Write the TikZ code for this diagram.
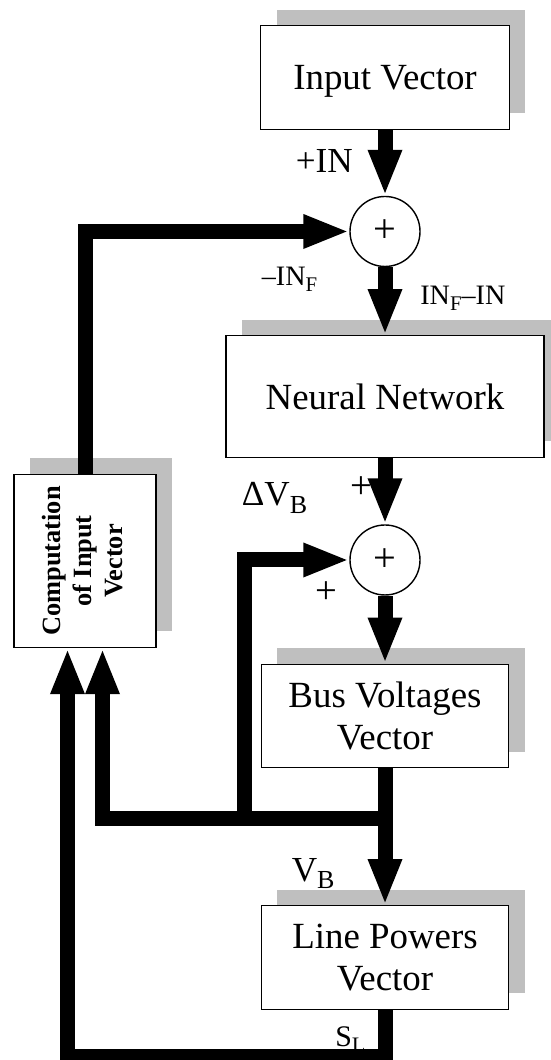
\documentclass[tikz,border=0pt]{standalone}
\usepackage{fontspec}
\setmainfont{Liberation Serif}
\usetikzlibrary{arrows.meta,shadows}

\newcommand{\lowsub}[1]{\raisebox{-0.2em}{\scalebox{0.74}{#1}}}

\begin{document}
\begin{tikzpicture}[
    every node/.style={font=\fontsize{20}{24}\selectfont},
    block/.style={draw, line width=0.8pt, fill=white, align=center, inner sep=0pt,
        font=\fontsize{21}{24.3}\selectfont,
        general shadow={fill=gray!50, draw=none, shadow xshift=0.32cm, shadow yshift=0.32cm}},
    adder/.style={draw, circle, line width=0.8pt, fill=white, minimum size=1.4cm, inner sep=0pt,
        font=\fontsize{23}{26}\selectfont},
    sigLabel/.style={anchor=base west, inner sep=0pt},
    smallLabel/.style={anchor=base west, inner sep=0pt, font=\fontsize{16}{19}\selectfont},
    signMark/.style={inner sep=0pt, font=\fontsize{22}{26}\selectfont},
    flow/.style={line width=0.3cm, -{Triangle[length=0.92cm, width=0.62cm]}}]

\useasboundingbox (0,0) rectangle (11,21.2);

% Main chain
\node[block, minimum width=4.97cm, minimum height=2.07cm, text depth=0pt] (inp) at (7.70,19.65) {Input Vector};
\node[adder] (sumIn) at (7.70,16.57) {+};
\node[block, minimum width=6.36cm, minimum height=2.43cm] (nn) at (7.70,13.27) {Neural Network};
\node[adder] (sumV) at (7.70,10.00) {+};
\node[block, minimum width=4.95cm, minimum height=2.07cm] (bus) at (7.70,6.88) {Bus Voltages\\Vector};
\node[block, minimum width=4.95cm, minimum height=2.07cm] (lines) at (7.70,2.05) {Line Powers\\Vector};

% Feedback block
\node[block, minimum width=2.84cm, minimum height=3.46cm] (comp) at (1.70,9.98)
    {\rotatebox{90}{\fontsize{15}{17.6}\selectfont\bfseries
     \begin{tabular}{@{}c@{}}Computation\\of Input\\Vector\end{tabular}}};

% Signal labels
\node[sigLabel] (lblIn) at (5.91,17.74) {+IN};
\node[smallLabel] (lblInF) at (5.23,15.48) {–IN\lowsub{F}};
\node[smallLabel] (lblDiff) at (8.40,15.10) {IN\lowsub{F}–IN};
\node[sigLabel] (lblDV) at (4.83,11.08) {ΔV\lowsub{B}};
\node[signMark] (lblPlusTop) at (7.22,11.45) {+};
\node[signMark] (lblPlusLeft) at (6.53,9.34) {+};
\node[sigLabel] (lblVB) at (5.83,3.57) {V\lowsub{B}};
\node[sigLabel, font=\fontsize{17}{20}\selectfont] (lblSL) at (6.70,0.27) {S\lowsub{L}};

% Forward connectors
\draw[flow] (inp) -- (sumIn);
\draw[flow] (sumIn) -- (nn);
\draw[flow] (nn) -- (sumV);
\draw[flow] (sumV) -- (bus);
\draw[flow] (bus) -- (lines);

% Feedback connectors
\coordinate (tap) at (7.70,4.82);
\coordinate (branch) at (4.89,4.82);
\coordinate (loopCorner) at (7.70,0.06);
\draw[flow] (comp.north) |- (sumIn.west);
\draw[flow] (tap) -| ([xshift=0.35cm]comp.south);
\draw[flow] (branch) |- (sumV.west);
\draw[flow] (lines.south) -- (loopCorner) -| ([xshift=-0.35cm]comp.south);

\end{tikzpicture}
\end{document}
